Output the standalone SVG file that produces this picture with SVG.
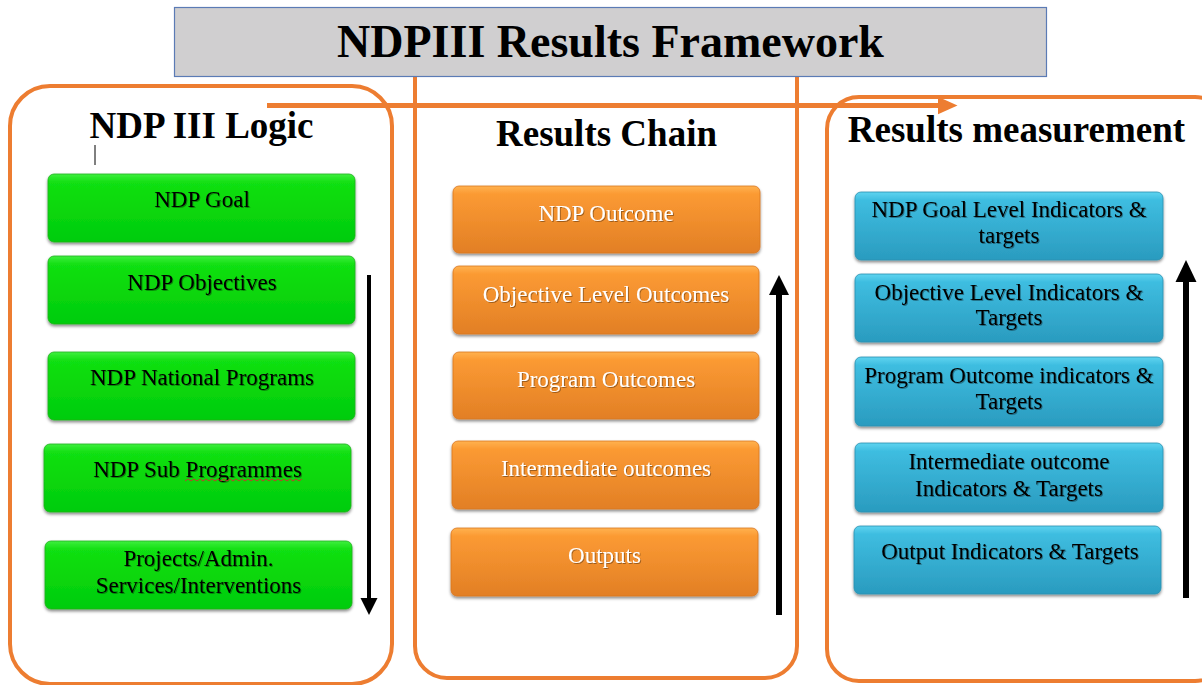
<svg xmlns="http://www.w3.org/2000/svg" width="1202" height="685" viewBox="0 0 1202 685">
<defs>
<linearGradient id="gGreen" x1="0" y1="0" x2="0" y2="1">
<stop offset="0" stop-color="#3fef3f"/><stop offset="0.12" stop-color="#12e012"/><stop offset="1" stop-color="#00cc08"/>
</linearGradient>
<linearGradient id="gOrange" x1="0" y1="0" x2="0" y2="1">
<stop offset="0" stop-color="#ffb24f"/><stop offset="0.12" stop-color="#fb9a33"/><stop offset="1" stop-color="#e27f25"/>
</linearGradient>
<linearGradient id="gBlue" x1="0" y1="0" x2="0" y2="1">
<stop offset="0" stop-color="#5fd4f0"/><stop offset="0.12" stop-color="#3ebde0"/><stop offset="1" stop-color="#2a9bbf"/>
</linearGradient>
<filter id="shadow" x="-5%" y="-10%" width="110%" height="130%">
<feDropShadow dx="0" dy="2" stdDeviation="1.5" flood-color="#000" flood-opacity="0.45"/>
</filter>
<filter id="tshadow" x="-5%" y="-20%" width="110%" height="150%">
<feDropShadow dx="1" dy="1" stdDeviation="0.6" flood-color="#000" flood-opacity="0.35"/>
</filter>
<marker id="headOrange" markerWidth="4" markerHeight="4" refX="0.5" refY="2" orient="auto" markerUnits="strokeWidth">
<path d="M0,0.2 L4,2 L0,3.8 Z" fill="#ed7d31"/>
</marker>
<style>
.frame{fill:none;stroke:#ed7d31;stroke-width:4}
.head{font-family:"Liberation Serif","Times New Roman",serif;font-weight:bold;font-size:37px;fill:#000;text-anchor:middle}
.title{font-family:"Liberation Serif","Times New Roman",serif;font-weight:bold;font-size:46px;fill:#000;text-anchor:middle}
.lbl{font-family:"Liberation Serif","Times New Roman",serif;font-size:23px;text-anchor:middle;filter:url(#tshadow)}
.dark{fill:#000}
.light{fill:#fff}
.green{fill:url(#gGreen);stroke:#1fb01f;stroke-width:0.8;filter:url(#shadow)}
.orange{fill:url(#gOrange);stroke:#d9761f;stroke-width:0.8;filter:url(#shadow)}
.blue{fill:url(#gBlue);stroke:#2a90b0;stroke-width:0.8;filter:url(#shadow)}
.conn{stroke:#000;fill:none}
</style>
</defs>
<rect width="1202" height="685" fill="#fff"/>

<g id="frames">
<rect id="frame-logic" class="frame" x="10" y="86" width="382" height="598" rx="40"/>
<rect id="frame-chain" class="frame" x="415" y="40" width="382" height="638" rx="32"/>
<rect id="frame-measure" class="frame" x="827" y="97" width="400" height="584" rx="32"/>
</g>

<g id="title">
<rect x="174.5" y="7.5" width="872" height="69" fill="#d0cfd0" stroke="#5b7bb5" stroke-width="1.2"/>
<text class="title" x="610.5" y="57">NDPIII Results Framework</text>
</g>

<g id="headings">
<text class="head" x="201.5" y="138">NDP III Logic</text>
<text class="head" x="606.5" y="146">Results Chain</text>
<text class="head" x="1016.5" y="142">Results measurement</text>
<line x1="95" y1="145" x2="95" y2="165" stroke="#000" stroke-width="1"/>
</g>

<g id="connectors">
<line x1="267" y1="105.5" x2="940" y2="105.5" stroke="#ed7d31" stroke-width="5" marker-end="url(#headOrange)"/>
<line class="conn" x1="369" y1="275" x2="369" y2="600" stroke-width="4"/>
<path d="M360.5,598 L377.5,598 L369,615 Z" fill="#000"/>
<line class="conn" x1="779" y1="615" x2="779" y2="292" stroke-width="6"/>
<path d="M769,295 L789,295 L779,275 Z" fill="#000"/>
<line class="conn" x1="1186" y1="598" x2="1186" y2="280" stroke-width="6"/>
<path d="M1175.5,282 L1196.5,282 L1186,260 Z" fill="#000"/>
</g>

<g id="node-ndp-goal"><rect class="green" x="48" y="174" width="307" height="68" rx="6"/><text class="lbl dark" x="202" y="207">NDP Goal</text></g>
<g id="node-ndp-objectives"><rect class="green" x="48" y="256" width="307" height="68" rx="6"/><text class="lbl dark" x="202" y="290">NDP Objectives</text></g>
<g id="node-ndp-national-programs"><rect class="green" x="48" y="352" width="307" height="68" rx="6"/><text class="lbl dark" x="202" y="385">NDP National Programs</text></g>
<g id="node-ndp-sub-programmes"><rect class="green" x="44" y="444" width="307" height="68" rx="6"/><text class="lbl dark" x="197.5" y="477">NDP Sub Programmes</text>
<path d="M185,481 l3,-2 l3,2 l3,-2 l3,2 l3,-2 l3,2 l3,-2 l3,2 l3,-2 l3,2 l3,-2 l3,2 l3,-2 l3,2 l3,-2 l3,2 l3,-2 l3,2 l3,-2 l3,2 l3,-2 l3,2 l3,-2 l3,2 l3,-2 l3,2 l3,-2 l3,2 l3,-2 l3,2 l3,-2 l3,2 l3,-2 l3,2 l3,-2 l3,2 l3,-2 l3,2 l3,-2" fill="none" stroke="#d03030" stroke-width="0.9"/></g>
<g id="node-projects"><rect class="green" x="45" y="541" width="307" height="68" rx="6"/><text class="lbl dark" x="198.5" y="566">Projects/Admin.</text><text class="lbl dark" x="198.5" y="593">Services/Interventions</text></g>

<g id="node-ndp-outcome"><rect class="orange" x="453" y="186" width="307" height="67" rx="6"/><text class="lbl light" x="606" y="221">NDP Outcome</text></g>
<g id="node-objective-outcomes"><rect class="orange" x="453" y="266" width="306" height="68" rx="6"/><text class="lbl light" x="606" y="302">Objective Level Outcomes</text></g>
<g id="node-program-outcomes"><rect class="orange" x="453" y="352" width="306" height="67" rx="6"/><text class="lbl light" x="606" y="387">Program Outcomes</text></g>
<g id="node-intermediate-outcomes"><rect class="orange" x="452" y="441" width="307" height="68" rx="6"/><text class="lbl light" x="606" y="476">Intermediate outcomes</text></g>
<g id="node-outputs"><rect class="orange" x="451" y="528" width="307" height="68" rx="6"/><text class="lbl light" x="604.5" y="563">Outputs</text></g>

<g id="node-goal-indicators"><rect class="blue" x="855" y="192" width="308" height="68" rx="6"/><text class="lbl dark" x="1009" y="217">NDP Goal Level Indicators &amp;</text><text class="lbl dark" x="1009" y="243">targets</text></g>
<g id="node-objective-indicators"><rect class="blue" x="855" y="274" width="308" height="68" rx="6"/><text class="lbl dark" x="1009" y="300">Objective Level Indicators &amp;</text><text class="lbl dark" x="1009" y="325">Targets</text></g>
<g id="node-program-indicators"><rect class="blue" x="855" y="357" width="308" height="69" rx="6"/><text class="lbl dark" x="1009" y="383">Program Outcome indicators &amp;</text><text class="lbl dark" x="1009" y="409">Targets</text></g>
<g id="node-intermediate-indicators"><rect class="blue" x="855" y="443" width="308" height="69" rx="6"/><text class="lbl dark" x="1009" y="469">Intermediate outcome</text><text class="lbl dark" x="1009" y="496">Indicators &amp; Targets</text></g>
<g id="node-output-indicators"><rect class="blue" x="854" y="526" width="307" height="68" rx="6"/><text class="lbl dark" x="1010" y="559">Output Indicators &amp; Targets</text></g>
</svg>
